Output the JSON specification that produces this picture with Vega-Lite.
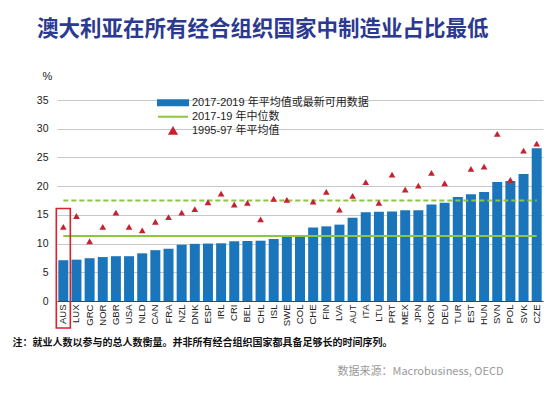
{
  "$schema": "https://vega.github.io/schema/vega-lite/v6.json",
  "width": 486,
  "height": 201,
  "autosize": {"type": "none"},
  "padding": {"left": 57, "top": 100, "right": 16, "bottom": 96},
  "background": "white",
  "config": {
    "view": {"stroke": null},
    "font": "Liberation Sans, Noto Sans CJK SC",
    "axis": {"labelFont": "Liberation Sans, Noto Sans CJK SC", "titleFont": "Noto Sans CJK SC, Liberation Sans"},
    "axisY": {"tickCount": 8}
  },
  "title": {
    "text": "澳大利亚在所有经合组织国家中制造业占比最低",
    "anchor": "start",
    "frame": "group",
    "dx": -20,
    "font": "Noto Sans CJK SC",
    "fontSize": 21.5,
    "fontWeight": "bold",
    "color": "#2b3990",
    "offset": 30
  },
  "datasets": {
    "main": [
      {"c": "AUS", "v": 7.1, "p": 12.9},
      {"c": "LUX", "v": 7.2, "p": 14.8},
      {"c": "GRC", "v": 7.45, "p": 10.4},
      {"c": "NOR", "v": 7.65, "p": 12.9},
      {"c": "GBR", "v": 7.8, "p": 15.4},
      {"c": "USA", "v": 7.8, "p": 12.9},
      {"c": "NLD", "v": 8.3, "p": 12.3},
      {"c": "CAN", "v": 8.85, "p": 13.8},
      {"c": "FRA", "v": 9.1, "p": 14.6},
      {"c": "NZL", "v": 9.8, "p": 15.4},
      {"c": "DNK", "v": 9.95, "p": 16.0},
      {"c": "ESP", "v": 10.0, "p": 17.2},
      {"c": "IRL", "v": 10.05, "p": 18.7},
      {"c": "CRI", "v": 10.4, "p": 16.8},
      {"c": "BEL", "v": 10.45, "p": 17.1},
      {"c": "CHL", "v": 10.5, "p": 14.2},
      {"c": "ISL", "v": 10.8, "p": 17.8},
      {"c": "SWE", "v": 11.2, "p": 17.6},
      {"c": "COL", "v": 11.25, "p": null},
      {"c": "CHE", "v": 12.8, "p": 17.3},
      {"c": "FIN", "v": 13.0, "p": 19.0},
      {"c": "LVA", "v": 13.3, "p": 15.9},
      {"c": "AUT", "v": 14.5, "p": 18.3},
      {"c": "ITA", "v": 15.45, "p": 20.7},
      {"c": "LTU", "v": 15.55, "p": 17.1},
      {"c": "PRT", "v": 15.6, "p": 22.0},
      {"c": "MEX", "v": 15.8, "p": 19.4},
      {"c": "JPN", "v": 15.8, "p": 20.1},
      {"c": "KOR", "v": 16.8, "p": 22.3},
      {"c": "DEU", "v": 17.1, "p": 20.5},
      {"c": "TUR", "v": 18.1, "p": null},
      {"c": "EST", "v": 18.6, "p": 23.0},
      {"c": "HUN", "v": 19.0, "p": 23.4},
      {"c": "SVN", "v": 20.7, "p": 29.1},
      {"c": "POL", "v": 20.9, "p": 21.1},
      {"c": "SVK", "v": 22.1, "p": 26.2},
      {"c": "CZE", "v": 26.6, "p": 27.4}
    ],
    "medians": [
      {"a": "AUS", "b": "CZE", "m": 11.3, "kind": "2017"},
      {"a": "AUS", "b": "CZE", "m": 17.5, "kind": "1995"}
    ]
  },
  "resolve": {"axis": {"x": "independent"}},
  "layer": [
    {
      "data": {"name": "main"},
      "mark": {"type": "bar", "color": "#1b75bb"},
      "encoding": {
        "x": {
          "field": "c", "type": "nominal", "sort": null,
          "scale": {
            "domain": ["AUS","LUX","GRC","NOR","GBR","USA","NLD","CAN","FRA","NZL","DNK","ESP","IRL","CRI","BEL","CHL","ISL","SWE","COL","CHE","FIN","LVA","AUT","ITA","LTU","PRT","MEX","JPN","KOR","DEU","TUR","EST","HUN","SVN","POL","SVK","CZE"],
            "paddingInner": 0.24, "paddingOuter": 0.1
          },
          "axis": {
            "orient": "bottom",
            "title": "注：就业人数以参与的总人数衡量。并非所有经合组织国家都具备足够长的时间序列。",
            "titleFont": "Noto Sans CJK SC",
            "titleFontSize": 10,
            "titleFontWeight": "bold",
            "titleColor": "#111",
            "titleAlign": "left",
            "titleAnchor": "start",
            "titleBaseline": "alphabetic",
            "titleX": -45,
            "titleY": 44,
            "labelAngle": -90,
            "labelFontSize": 9.5,
            "labelColor": "#222",
            "labelPadding": 3,
            "ticks": false,
            "domainColor": "#444",
            "domainWidth": 1
          }
        },
        "y": {
          "field": "v", "type": "quantitative",
          "scale": {"domain": [0, 35], "nice": false, "zero": true},
          "axis": {
            "tickCount": 8,
            "labelOverlap": false,
            "title": "%",
            "titleFont": "Liberation Sans",
            "titleFontSize": 11,
            "titleFontWeight": "normal",
            "titleColor": "#222",
            "titleAngle": 0,
            "titleAlign": "center",
            "titleBaseline": "alphabetic",
            "titleX": -10,
            "titleY": -21,
            "labelFontSize": 10.5,
            "labelColor": "#222",
            "labelPadding": 9,
            "ticks": false,
            "domain": false,
            "gridColor": "#c8c8c8",
            "gridWidth": 1
          }
        },
        "color": {
          "datum": "2017-2019 年平均值或最新可用数据",
          "scale": {
            "domain": ["2017-2019 年平均值或最新可用数据", "2017-19 年中位数", "1995-97 年平均值"],
            "range": ["#1b75bb", "#8dc63f", "#c8202f"]
          },
          "legend": {
            "title": null,
            "orient": "none",
            "legendX": 100,
            "legendY": -4,
            "labelFont": "Liberation Sans, Noto Sans CJK SC",
            "labelFontSize": 11,
            "labelColor": "#222",
            "labelLimit": 0,
            "symbolSize": 100,
            "rowPadding": 0,
            "clipHeight": 13.6,
            "labelOffset": 3,
            "encode": {
              "symbols": {
                "update": {
                  "shape": {"signal": "datum.value == '1995-97 年平均值' ? 'triangle-up' : datum.value == '2017-19 年中位数' ? 'M-1,0H1' : 'M-1,-0.17H1V0.17H-1Z'"},
                  "size": {"signal": "datum.value == '1995-97 年平均值' ? 45 : 900"},
                  "fill": {"signal": "datum.value == '2017-19 年中位数' ? 'transparent' : scale('color', datum.value)"},
                  "stroke": {"signal": "datum.value == '2017-19 年中位数' ? scale('color', datum.value) : 'transparent'"},
                  "strokeWidth": {"value": 2},
                  "opacity": {"value": 1}
                }
              }
            }
          }
        }
      }
    },
    {
      "data": {"name": "medians"},
      "transform": [{"filter": "datum.kind == '2017'"}],
      "mark": {"type": "rule", "strokeWidth": 2},
      "encoding": {
        "x": {"field": "a", "type": "nominal", "axis": null},
        "x2": {"field": "b"},
        "y": {"field": "m", "type": "quantitative", "axis": {"tickCount": 8}},
        "color": {"datum": "2017-19 年中位数"}
      }
    },
    {
      "data": {"name": "medians"},
      "transform": [{"filter": "datum.kind == '1995'"}],
      "mark": {"type": "rule", "strokeWidth": 1.8, "strokeDash": [5, 3], "color": "#8dc63f"},
      "encoding": {
        "x": {"field": "a", "type": "nominal", "axis": null},
        "x2": {"field": "b"},
        "y": {"field": "m", "type": "quantitative", "axis": {"tickCount": 8}}
      }
    },
    {
      "data": {"name": "main"},
      "mark": {"type": "point", "shape": "triangle-up", "filled": true, "size": 45, "opacity": 1},
      "encoding": {
        "x": {
          "field": "c", "type": "nominal",
          "axis": {
            "orient": "bottom",
            "title": "数据来源：Macrobusiness, OECD",
            "titleFont": "Noto Sans CJK SC, Liberation Sans",
            "titleFontSize": 11,
            "titleFontWeight": "normal",
            "titleColor": "#9a9a9a",
            "titleAlign": "right",
            "titleBaseline": "alphabetic",
            "titleX": 446,
            "titleY": 73,
            "labels": false,
            "ticks": false,
            "domain": false,
            "grid": false
          }
        },
        "y": {"field": "p", "type": "quantitative", "axis": {"tickCount": 8}},
        "color": {"datum": "1995-97 年平均值"}
      }
    },
    {
      "data": {"values": [{}]},
      "mark": {"type": "rect", "fill": null, "filled": false, "stroke": "#d9232d", "strokeWidth": 1.6, "width": 14},
      "encoding": {
        "x": {"datum": "AUS", "type": "nominal", "axis": null},
        "y": {"datum": 16.1, "type": "quantitative", "axis": {"tickCount": 8}},
        "y2": {"datum": -4.7}
      }
    }
  ]
}
